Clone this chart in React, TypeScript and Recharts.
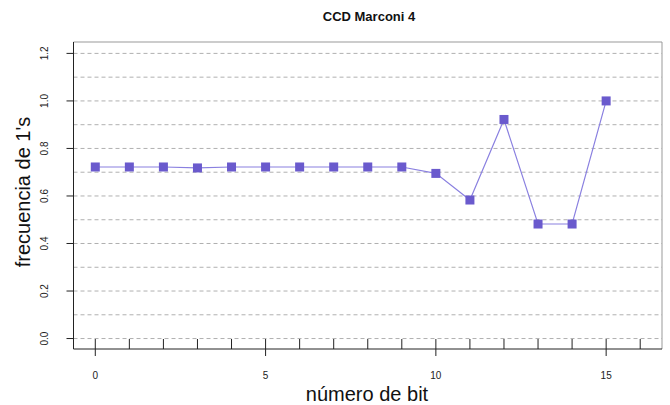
import { LineChart, Line, XAxis, YAxis, CartesianGrid, ReferenceLine } from "recharts";

const bits = [0, 1, 2, 3, 4, 5, 6, 7, 8, 9, 10, 11, 12, 13, 14, 15];
const freqs = [0.722, 0.722, 0.722, 0.718, 0.722, 0.722, 0.722, 0.722, 0.722, 0.722, 0.695, 0.583, 0.922, 0.482, 0.482, 1.0];
const xTicks = [0, 1, 2, 3, 4, 5, 6, 7, 8, 9, 10, 11, 12, 13, 14, 15, 16];
const xLabelTicks = [0, 5, 10, 15];
const yTicks = [0, 0.2, 0.4, 0.6, 0.8, 1.0, 1.2];
const gridValues = [0, 0.1, 0.2, 0.3, 0.4, 0.5, 0.6, 0.7, 0.8, 0.9, 1.0, 1.1, 1.2];

const X_DOMAIN: [number, number] = [-0.64, 16.64];
const Y_DOMAIN: [number, number] = [-0.044, 1.248];

const data = bits.map((b, i) => ({ bit: b, freq: freqs[i] }));

const FONT = "'Liberation Sans', Arial, sans-serif";

function XTick(props: any) {
  const { x, y, payload } = props;
  const major = xLabelTicks.includes(payload.value);
  return (
    <g>
      <line x1={x} x2={x} y1={y - 10} y2={major ? y + 7 : y} stroke="#222" strokeWidth={1} />
      {major && (
        <text x={x} y={y + 30} textAnchor="middle" fontSize={10} fill="#222" fontFamily={FONT}>
          {payload.value}
        </text>
      )}
    </g>
  );
}

function YTick(props: any) {
  const { x, y, payload } = props;
  return (
    <text
      transform={`translate(${x - 17}, ${y}) rotate(-90)`}
      textAnchor="middle"
      fontSize={10}
      fill="#222"
      fontFamily={FONT}
    >
      {payload.value.toFixed(1)}
    </text>
  );
}

function SquareDot(props: any) {
  const { cx, cy, index } = props;
  if (cx == null || cy == null) return null;
  return <rect key={index} x={cx - 4.5} y={cy - 4.5} width={9} height={9} fill="#6a5acd" />;
}

export default function App() {
  return (
    <div style={{ position: "absolute", left: 0, top: 0, width: 670, height: 405, background: "#fff", fontFamily: FONT }}>
      <div
        style={{
          position: "absolute",
          left: 169,
          top: 9,
          width: 400,
          textAlign: "center",
          fontSize: 13,
          fontWeight: "bold",
          lineHeight: "16px",
          color: "#111",
        }}
      >
        CCD Marconi 4
      </div>
      <LineChart width={670} height={405} data={data} margin={{ top: 42, right: 8, bottom: 16, left: 0 }}>
        <CartesianGrid
          vertical={false}
          horizontalValues={gridValues}
          stroke="#b0b0b0"
          strokeDasharray="4 3"
        />
        <XAxis
          dataKey="bit"
          type="number"
          domain={X_DOMAIN}
          ticks={xTicks}
          interval={0}
          allowDataOverflow
          height={40}
          axisLine={{ stroke: "#222" }}
          tickLine={false}
          tickSize={0}
          tickMargin={0}
          tick={<XTick />}
        />
        <YAxis
          type="number"
          domain={Y_DOMAIN}
          ticks={yTicks}
          interval={0}
          allowDataOverflow
          width={73.5}
          axisLine={{ stroke: "#222" }}
          tickLine={{ stroke: "#222" }}
          tickSize={7}
          tickMargin={2}
          tick={<YTick />}
        />
        <ReferenceLine y={Y_DOMAIN[1]} stroke="#999" />
        <ReferenceLine x={X_DOMAIN[1]} stroke="#999" />
        <Line
          dataKey="freq"
          type="linear"
          stroke="#8a80e0"
          strokeWidth={1.2}
          dot={<SquareDot />}
          activeDot={false}
          isAnimationActive={false}
        />
      </LineChart>
      <div
        style={{
          position: "absolute",
          left: 167,
          top: 384,
          width: 400,
          textAlign: "center",
          fontSize: 20,
          lineHeight: "20px",
          color: "#111",
        }}
      >
        número de bit
      </div>
      <div
        style={{
          position: "absolute",
          left: 23 - 100,
          top: 192 - 12,
          width: 200,
          height: 24,
          textAlign: "center",
          fontSize: 20,
          lineHeight: "24px",
          color: "#111",
          transform: "rotate(-90deg)",
        }}
      >
        frecuencia de 1's
      </div>
    </div>
  );
}
